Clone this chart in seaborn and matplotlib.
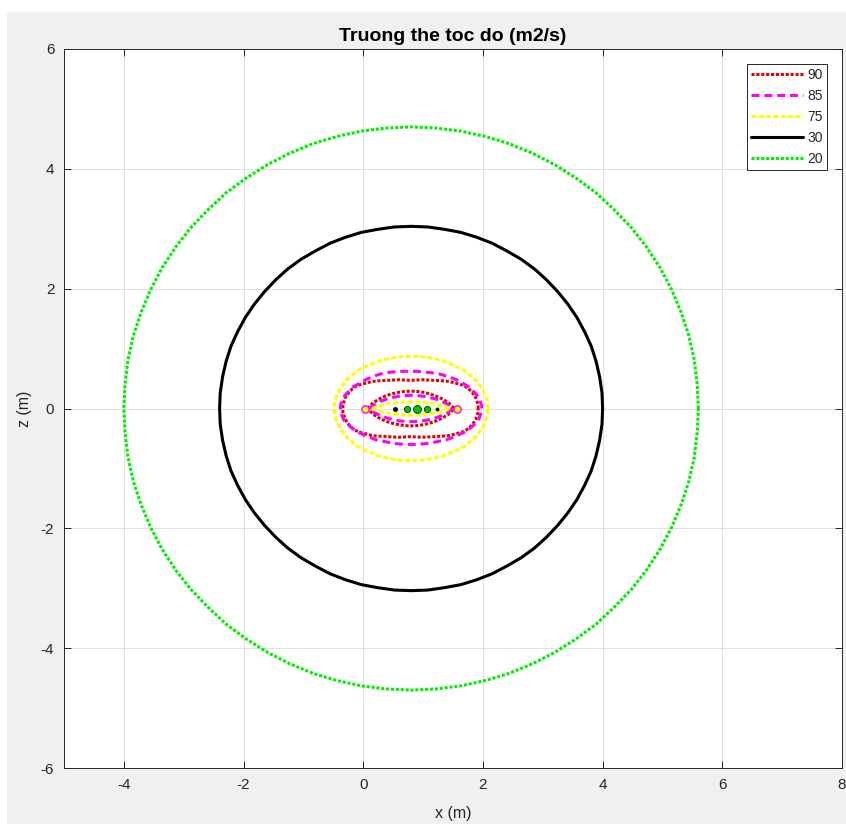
import matplotlib
matplotlib.use("Agg")
import matplotlib.pyplot as plt
from matplotlib.patches import Rectangle
import seaborn as sns

# ---------------- data ----------------
levels = ["90", "85", "75", "30", "20"]

# level 20 (outer green circle)
x20 = [5.60, 5.58, 5.53, 5.44, 5.31, 5.15, 4.96, 4.73, 4.48, 4.19, 3.89, 3.55, 3.20, 2.83, 2.44, 2.04, 1.63, 1.22, 0.80,
       0.38, -0.03, -0.44, -0.84, -1.23, -1.60, -1.95, -2.29, -2.59, -2.88, -3.13, -3.36, -3.55, -3.71, -3.84, -3.93, -3.98, -4.00,
       -3.98, -3.93, -3.84, -3.71, -3.55, -3.36, -3.13, -2.88, -2.59, -2.29, -1.95, -1.60, -1.23, -0.84, -0.44, -0.03, 0.38,
       0.80, 1.22, 1.63, 2.04, 2.44, 2.83, 3.20, 3.55, 3.89, 4.19, 4.48, 4.73, 4.96, 5.15, 5.31, 5.44, 5.53, 5.58, 5.60]
z20 = [0, 0.41, 0.82, 1.22, 1.61, 1.99, 2.35, 2.70, 3.02, 3.32, 3.60, 3.85, 4.07, 4.26, 4.42, 4.54, 4.63, 4.68, 4.70,
       4.68, 4.63, 4.54, 4.42, 4.26, 4.07, 3.85, 3.60, 3.32, 3.02, 2.70, 2.35, 1.99, 1.61, 1.22, 0.82, 0.41, 0,
       -0.41, -0.82, -1.22, -1.61, -1.99, -2.35, -2.70, -3.02, -3.32, -3.60, -3.85, -4.07, -4.26, -4.42, -4.54, -4.63, -4.68,
       -4.70, -4.68, -4.63, -4.54, -4.42, -4.26, -4.07, -3.85, -3.60, -3.32, -3.02, -2.70, -2.35, -1.99, -1.61, -1.22, -0.82, -0.41, 0]

# level 30 (black circle)
x30 = [4.00, 3.99, 3.95, 3.89, 3.81, 3.70, 3.57, 3.42, 3.25, 3.06, 2.86, 2.64, 2.40, 2.15, 1.89, 1.63, 1.36, 1.08, 0.80,
       0.52, 0.24, -0.03, -0.29, -0.55, -0.80, -1.04, -1.26, -1.46, -1.65, -1.82, -1.97, -2.10, -2.21, -2.29, -2.35, -2.39, -2.40,
       -2.39, -2.35, -2.29, -2.21, -2.10, -1.97, -1.82, -1.65, -1.46, -1.26, -1.04, -0.80, -0.55, -0.29, -0.03, 0.24, 0.52,
       0.80, 1.08, 1.36, 1.63, 1.89, 2.15, 2.40, 2.64, 2.86, 3.06, 3.25, 3.42, 3.57, 3.70, 3.81, 3.89, 3.95, 3.99, 4.00]
z30 = [0, 0.26, 0.53, 0.79, 1.04, 1.28, 1.52, 1.74, 1.95, 2.15, 2.33, 2.49, 2.63, 2.76, 2.86, 2.94, 2.99, 3.03, 3.04,
       3.03, 2.99, 2.94, 2.86, 2.76, 2.63, 2.49, 2.33, 2.15, 1.95, 1.74, 1.52, 1.28, 1.04, 0.79, 0.53, 0.26, 0,
       -0.26, -0.53, -0.79, -1.04, -1.28, -1.52, -1.74, -1.95, -2.15, -2.33, -2.49, -2.63, -2.76, -2.86, -2.94, -2.99, -3.03,
       -3.04, -3.03, -2.99, -2.94, -2.86, -2.76, -2.63, -2.49, -2.33, -2.15, -1.95, -1.74, -1.52, -1.28, -1.04, -0.79, -0.53, -0.26, 0]

# level 75 (yellow): outer oval and inner lens
x75 = [2.08, 2.08, 2.06, 2.04, 2.00, 1.96, 1.91, 1.85, 1.78, 1.71, 1.62, 1.53, 1.44, 1.34, 1.24, 1.13, 1.02, 0.91, 0.80,
       0.69, 0.58, 0.47, 0.36, 0.26, 0.16, 0.06, -0.02, -0.11, -0.18, -0.25, -0.31, -0.36, -0.40, -0.44, -0.46, -0.48, -0.48,
       -0.48, -0.46, -0.44, -0.40, -0.36, -0.31, -0.25, -0.18, -0.11, -0.02, 0.06, 0.16, 0.26, 0.36, 0.47, 0.58, 0.69,
       0.80, 0.91, 1.02, 1.13, 1.24, 1.34, 1.44, 1.53, 1.62, 1.71, 1.78, 1.85, 1.91, 1.96, 2.00, 2.04, 2.06, 2.08, 2.08]
z75 = [0, 0.08, 0.15, 0.23, 0.30, 0.37, 0.44, 0.50, 0.56, 0.62, 0.67, 0.71, 0.75, 0.79, 0.82, 0.84, 0.86, 0.87, 0.87,
       0.87, 0.86, 0.84, 0.82, 0.79, 0.75, 0.71, 0.67, 0.62, 0.56, 0.50, 0.44, 0.37, 0.30, 0.23, 0.15, 0.08, 0,
       -0.08, -0.15, -0.23, -0.30, -0.37, -0.44, -0.50, -0.56, -0.62, -0.67, -0.71, -0.75, -0.79, -0.82, -0.84, -0.86, -0.87,
       -0.87, -0.87, -0.86, -0.84, -0.82, -0.79, -0.75, -0.71, -0.67, -0.62, -0.56, -0.50, -0.44, -0.37, -0.30, -0.23, -0.15, -0.08, 0]
x75_in = [0.15, 0.24, 0.34, 0.43, 0.52, 0.61, 0.71, 0.80, 0.89, 0.99, 1.08, 1.17, 1.26, 1.36, 1.45,
          1.36, 1.26, 1.17, 1.08, 0.99, 0.89, 0.80, 0.71, 0.61, 0.52, 0.43, 0.34, 0.24, 0.15]
z75_in = [0, 0.038, 0.062, 0.080, 0.094, 0.103, 0.108, 0.110, 0.108, 0.103, 0.094, 0.080, 0.062, 0.038, 0,
          -0.038, -0.062, -0.080, -0.094, -0.103, -0.108, -0.110, -0.108, -0.103, -0.094, -0.080, -0.062, -0.038, 0]

# level 85 (magenta): outer oval and inner lens
x85 = [1.98, 1.98, 1.96, 1.94, 1.91, 1.87, 1.82, 1.77, 1.70, 1.63, 1.56, 1.48, 1.39, 1.30, 1.20, 1.11, 1.01, 0.90, 0.80,
       0.70, 0.59, 0.50, 0.40, 0.30, 0.21, 0.13, 0.04, -0.03, -0.10, -0.17, -0.22, -0.27, -0.31, -0.34, -0.36, -0.38, -0.38,
       -0.38, -0.36, -0.34, -0.31, -0.27, -0.22, -0.17, -0.10, -0.03, 0.04, 0.13, 0.21, 0.30, 0.40, 0.50, 0.59, 0.70,
       0.80, 0.90, 1.01, 1.11, 1.20, 1.30, 1.39, 1.48, 1.56, 1.63, 1.70, 1.77, 1.82, 1.87, 1.91, 1.94, 1.96, 1.98, 1.98]
z85 = [0, 0.05, 0.11, 0.16, 0.21, 0.26, 0.31, 0.36, 0.40, 0.44, 0.48, 0.51, 0.54, 0.57, 0.59, 0.60, 0.61, 0.62, 0.62,
       0.62, 0.62, 0.61, 0.60, 0.58, 0.55, 0.52, 0.48, 0.44, 0.40, 0.36, 0.31, 0.26, 0.21, 0.16, 0.11, 0.05, 0,
       -0.05, -0.10, -0.16, -0.21, -0.25, -0.30, -0.34, -0.39, -0.42, -0.46, -0.49, -0.52, -0.54, -0.56, -0.58, -0.59, -0.60,
       -0.60, -0.60, -0.59, -0.58, -0.56, -0.54, -0.52, -0.49, -0.46, -0.42, -0.39, -0.34, -0.30, -0.25, -0.21, -0.16, -0.10, -0.05, 0]
x85_in = [0.10, 0.20, 0.30, 0.40, 0.50, 0.60, 0.70, 0.80, 0.90, 1.00, 1.10, 1.20, 1.30, 1.40, 1.50,
          1.40, 1.30, 1.20, 1.10, 1.00, 0.90, 0.80, 0.70, 0.60, 0.50, 0.40, 0.30, 0.20, 0.10]
z85_in = [0, 0.076, 0.124, 0.160, 0.187, 0.205, 0.216, 0.220, 0.216, 0.205, 0.187, 0.160, 0.124, 0.076, 0,
          -0.076, -0.124, -0.160, -0.187, -0.205, -0.216, -0.220, -0.216, -0.205, -0.187, -0.160, -0.124, -0.076, 0]

# level 90 (red): outer flat-topped oval and inner lens
x90 = [1.92, 1.92, 1.90, 1.88, 1.85, 1.81, 1.77, 1.72, 1.66, 1.59, 1.52, 1.44, 1.36, 1.27, 1.18, 1.08, 0.99, 0.89, 0.79,
       0.69, 0.59, 0.50, 0.40, 0.31, 0.23, 0.14, 0.07, -0.01, -0.08, -0.14, -0.19, -0.23, -0.27, -0.30, -0.32, -0.34, -0.34,
       -0.34, -0.32, -0.30, -0.27, -0.23, -0.19, -0.14, -0.08, -0.01, 0.07, 0.14, 0.23, 0.31, 0.40, 0.50, 0.59, 0.69,
       0.79, 0.89, 0.99, 1.08, 1.18, 1.27, 1.36, 1.44, 1.52, 1.59, 1.66, 1.72, 1.77, 1.81, 1.85, 1.88, 1.90, 1.92, 1.92]
z90 = [0, 0.06, 0.12, 0.18, 0.23, 0.28, 0.32, 0.36, 0.39, 0.41, 0.43, 0.45, 0.46, 0.465, 0.47, 0.475, 0.48, 0.475, 0.47,
       0.475, 0.48, 0.475, 0.47, 0.465, 0.46, 0.45, 0.43, 0.41, 0.39, 0.36, 0.32, 0.28, 0.23, 0.18, 0.12, 0.06, 0,
       -0.06, -0.12, -0.18, -0.23, -0.28, -0.32, -0.36, -0.39, -0.41, -0.43, -0.45, -0.46, -0.465, -0.47, -0.475, -0.48, -0.475,
       -0.47, -0.475, -0.48, -0.475, -0.47, -0.465, -0.46, -0.45, -0.43, -0.41, -0.39, -0.36, -0.32, -0.28, -0.23, -0.18, -0.12, -0.06, 0]
x90_in = [0.07, 0.17, 0.27, 0.37, 0.48, 0.59, 0.69, 0.80, 0.90, 1.01, 1.11, 1.21, 1.32, 1.42, 1.52,
          1.42, 1.32, 1.21, 1.11, 1.01, 0.90, 0.80, 0.69, 0.59, 0.48, 0.37, 0.27, 0.17, 0.07]
z90_in = [0, 0.10, 0.16, 0.21, 0.245, 0.27, 0.285, 0.29, 0.285, 0.27, 0.245, 0.21, 0.16, 0.10, 0,
          -0.10, -0.16, -0.21, -0.245, -0.27, -0.285, -0.29, -0.285, -0.27, -0.245, -0.21, -0.16, -0.10, 0]

# source markers on the axis z = 0
src_x = [0.53, 0.73, 0.90, 1.07, 1.23]
src_z = [0, 0, 0, 0, 0]
src_size = [9, 20, 32, 20, 5]
src_color = ["#000000", "#00c000", "#00c000", "#00c000", "#000000"]
end_x = [0.03, 1.57]
end_z = [0, 0]

x_ticks = [-4, -2, 0, 2, 4, 6, 8]
z_ticks = [-6, -4, -2, 0, 2, 4, 6]

# ---------------- styling ----------------
sns.set_style("white")
plt.rcParams["font.family"] = ["Liberation Sans", "DejaVu Sans"]
plt.rcParams["axes.unicode_minus"] = False

W, H = 846, 824
fig = plt.figure(figsize=(W / 100, H / 100), dpi=100, facecolor="white")
fig.patches.append(Rectangle((7 / W, 0), 1 - 7 / W, (H - 12) / H, transform=fig.transFigure,
                             facecolor="#f0f0f0", edgecolor="none", zorder=-10))
ax = fig.add_axes([64 / W, (H - 768) / H, (842 - 64) / W, (768 - 49) / H])
ax.set_facecolor("white")

LW = 2.2
styles = {
    "90": dict(color="#e60000", linestyle=(0, (1.0, 0.6))),
    "85": dict(color="#ff00ff", linestyle=(0, (2.6, 1.6))),
    "75": dict(color="#ffff00", linestyle=(0, (1.6, 0.8))),
    "30": dict(color="#000000", linestyle="-"),
    "20": dict(color="#00f000", linestyle=(0, (1.0, 0.6))),
}
curves = {
    "90": [(x90, z90), (x90_in, z90_in)],
    "85": [(x85, z85), (x85_in, z85_in)],
    "75": [(x75, z75), (x75_in, z75_in)],
    "30": [(x30, z30)],
    "20": [(x20, z20)],
}

handles = []
for lev in levels:
    for i, (xs, zs) in enumerate(curves[lev]):
        sns.lineplot(x=xs, y=zs, sort=False, estimator=None, ax=ax,
                     linewidth=LW, label=(lev if i == 0 else "_nolegend_"),
                     dash_capstyle="butt", **styles[lev])
        if i == 0:
            handles.append(ax.lines[-1])

# markers
for xm, zm, sm, cm in zip(src_x, src_z, src_size, src_color):
    sns.scatterplot(x=[xm], y=[zm], s=sm, color=cm, edgecolor="#003000", linewidth=0.6, ax=ax, zorder=5)
sns.scatterplot(x=end_x, y=end_z, s=28, color="#ffff00", edgecolor="#ff00ff", linewidth=1.0, ax=ax, zorder=5)

ax.set_xlim(-5, 8)
ax.set_ylim(-6, 6)
ax.set_xticks(x_ticks)
ax.set_yticks(z_ticks)
ax.grid(True, color="#dcdcdc", linewidth=0.6)
ax.set_axisbelow(True)
for s in ax.spines.values():
    s.set_color("#262626")
    s.set_linewidth(0.7)
    s.set_visible(True)
ax.tick_params(direction="in", length=5, width=0.7, colors="#262626", labelsize=11,
               top=True, right=True, bottom=True, left=True, pad=7)
ax.set_xlabel("x (m)", fontsize=11.5, color="#262626", labelpad=10)
ax.set_ylabel("z (m)", fontsize=11.5, color="#262626", labelpad=6)
ax.set_title("Truong the toc do (m2/s)", fontsize=14, fontweight="bold", color="black", pad=6)

leg = ax.legend(handles=handles, labels=levels, loc="upper right", fontsize=10,
                handlelength=3.8, handletextpad=0.3, labelspacing=0.5, borderaxespad=1.05,
                borderpad=0.3, fancybox=False, framealpha=1, edgecolor="#262626")
leg.get_frame().set_linewidth(0.7)

fig.savefig("out.png", dpi=100, facecolor=fig.get_facecolor())
